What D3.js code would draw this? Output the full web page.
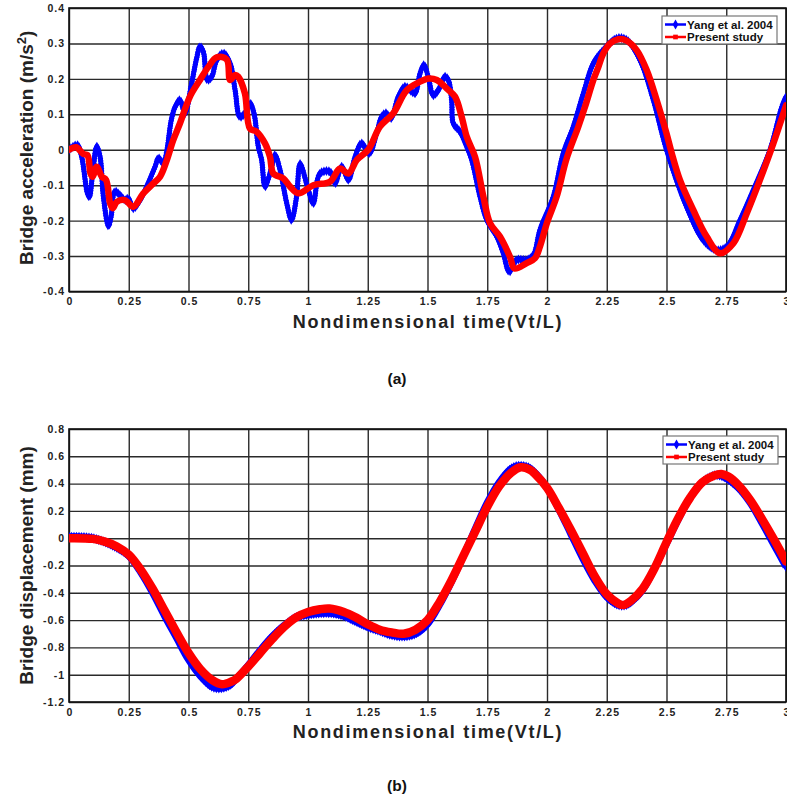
<!DOCTYPE html>
<html><head><meta charset="utf-8">
<script src="https://cdn.jsdelivr.net/npm/d3@7"></script>
<style>body{margin:0;background:#fff}svg{display:block}text{font-family:Arial,"Liberation Sans",sans-serif}</style>
</head><body><svg id="c" width="787" height="799"></svg>
<script>
// ---------- data ----------
const xTicks = [0,0.25,0.5,0.75,1,1.25,1.5,1.75,2,2.25,2.5,2.75,3];
const xTickLabels = ["0","0.25","0.5","0.75","1","1.25","1.5","1.75","2","2.25","2.5","2.75","3"];
const accTicks = [-0.4,-0.3,-0.2,-0.1,0,0.1,0.2,0.3,0.4];
const accTickLabels = ["-0.4","-0.3","-0.2","-0.1","0","0.1","0.2","0.3","0.4"];
const dispTicks = [-1.2,-1,-0.8,-0.6,-0.4,-0.2,0,0.2,0.4,0.6,0.8];
const dispTickLabels = ["-1.2","-1","-0.8","-0.6","-0.4","-0.2","0","0.2","0.4","0.6","0.8"];
const seriesNames = ["Yang et al. 2004","Present study"];

const accYangT = [0,0.035,0.053,0.077,0.085,0.099,0.116,0.13,0.144,0.165,0.176,0.192,0.213,0.234,0.248,0.269,0.297,0.325,0.36,0.374,0.395,0.41,0.428,0.444,0.464,0.485,0.513,0.534,0.548,0.562,0.579,0.597,0.618,0.646,0.674,0.695,0.715,0.736,0.757,0.774,0.792,0.806,0.82,0.835,0.848,0.862,0.883,0.911,0.931,0.952,0.967,1.0,1.022,1.05,1.092,1.113,1.141,1.169,1.197,1.224,1.256,1.287,1.308,1.326,1.347,1.378,1.406,1.434,1.448,1.469,1.485,1.503,1.524,1.545,1.573,1.587,1.601,1.608,1.636,1.664,1.685,1.72,1.748,1.79,1.817,1.842,1.873,1.915,1.943,1.971,2.026,2.068,2.11,2.152,2.194,2.236,2.292,2.333,2.389,2.445,2.5,2.584,2.654,2.71,2.752,2.808,2.863,2.933,2.982,3.0];
const accYang = [0,0.013,-0.02,-0.123,-0.133,-0.067,0.009,-0.02,-0.133,-0.215,-0.189,-0.118,-0.128,-0.142,-0.137,-0.165,-0.142,-0.104,-0.048,-0.024,-0.038,0.0,0.084,0.121,0.14,0.103,0.187,0.258,0.291,0.277,0.197,0.206,0.253,0.272,0.244,0.168,0.093,0.103,0.131,0.103,0.009,-0.029,-0.104,-0.08,-0.048,-0.015,-0.057,-0.151,-0.198,-0.133,-0.04,-0.11,-0.151,-0.067,-0.062,-0.095,-0.048,-0.085,-0.02,0.018,-0.01,0.046,0.093,0.103,0.089,0.15,0.178,0.164,0.159,0.216,0.239,0.206,0.154,0.168,0.206,0.197,0.14,0.074,0.051,0.009,-0.029,-0.133,-0.198,-0.245,-0.292,-0.344,-0.311,-0.311,-0.297,-0.225,-0.133,-0.01,0.065,0.159,0.244,0.281,0.314,0.31,0.253,0.14,0.0,-0.161,-0.255,-0.283,-0.274,-0.198,-0.114,0.0,0.12,0.15];

const accPresT = [0,0.03,0.06,0.077,0.09,0.099,0.116,0.137,0.155,0.172,0.183,0.2,0.234,0.269,0.311,0.353,0.381,0.409,0.436,0.464,0.506,0.548,0.583,0.618,0.66,0.674,0.695,0.708,0.736,0.757,0.785,0.82,0.841,0.855,0.897,0.925,0.96,1.022,1.092,1.134,1.169,1.204,1.252,1.301,1.357,1.413,1.469,1.503,1.539,1.58,1.615,1.643,1.664,1.699,1.734,1.762,1.803,1.845,1.864,1.915,1.95,1.97,1.999,2.04,2.082,2.131,2.159,2.194,2.215,2.236,2.264,2.298,2.333,2.375,2.417,2.459,2.5,2.522,2.556,2.612,2.668,2.724,2.78,2.836,2.891,2.947,3.0];
const accPres = [0,0.007,-0.012,-0.015,-0.067,-0.076,-0.048,-0.076,-0.085,-0.151,-0.165,-0.147,-0.142,-0.161,-0.123,-0.095,-0.076,-0.03,0.027,0.074,0.15,0.197,0.234,0.261,0.255,0.197,0.211,0.206,0.159,0.06,0.051,0.018,-0.02,-0.067,-0.081,-0.104,-0.123,-0.1,-0.09,-0.053,-0.067,-0.029,0,0.065,0.103,0.168,0.192,0.201,0.197,0.173,0.15,0.093,0.037,-0.02,-0.133,-0.208,-0.245,-0.302,-0.335,-0.32,-0.306,-0.274,-0.208,-0.133,-0.025,0.065,0.121,0.197,0.234,0.272,0.3,0.312,0.308,0.281,0.225,0.14,0.046,-0.01,-0.085,-0.17,-0.245,-0.292,-0.264,-0.179,-0.085,0.018,0.125];

const dispYangT = [0,0.1,0.2,0.25,0.3,0.35,0.4,0.45,0.5,0.55,0.6,0.63,0.67,0.7,0.75,0.8,0.85,0.9,0.95,1.0,1.05,1.1,1.15,1.2,1.25,1.3,1.35,1.4,1.45,1.5,1.55,1.6,1.65,1.7,1.75,1.8,1.85,1.88,1.92,1.95,2.0,2.05,2.1,2.15,2.2,2.25,2.3,2.33,2.35,2.4,2.45,2.5,2.55,2.6,2.65,2.7,2.72,2.75,2.8,2.85,2.9,2.95,3.0];
const dispYang = [0.01,0,-0.07,-0.13,-0.25,-0.4,-0.57,-0.73,-0.89,-1.01,-1.09,-1.1,-1.08,-1.03,-0.93,-0.82,-0.72,-0.64,-0.58,-0.56,-0.55,-0.55,-0.57,-0.61,-0.65,-0.68,-0.71,-0.72,-0.7,-0.63,-0.49,-0.32,-0.13,0.07,0.26,0.41,0.51,0.53,0.52,0.48,0.37,0.21,0.03,-0.15,-0.31,-0.43,-0.49,-0.49,-0.47,-0.38,-0.22,-0.04,0.14,0.3,0.41,0.46,0.46,0.44,0.37,0.26,0.11,-0.05,-0.21];

const dispPresT = [0,0.1,0.15,0.2,0.25,0.3,0.35,0.4,0.45,0.5,0.55,0.6,0.64,0.68,0.7,0.75,0.8,0.85,0.9,0.95,1.0,1.05,1.09,1.15,1.2,1.25,1.3,1.35,1.4,1.45,1.5,1.55,1.6,1.65,1.7,1.75,1.8,1.85,1.89,1.93,1.95,2.0,2.05,2.1,2.15,2.2,2.25,2.3,2.32,2.35,2.4,2.45,2.5,2.55,2.6,2.65,2.7,2.73,2.76,2.8,2.85,2.9,2.95,3.0];
const dispPres = [0,-0.005,-0.025,-0.06,-0.12,-0.23,-0.37,-0.53,-0.69,-0.84,-0.96,-1.04,-1.07,-1.05,-1.03,-0.94,-0.84,-0.74,-0.65,-0.58,-0.54,-0.52,-0.515,-0.54,-0.58,-0.63,-0.67,-0.69,-0.7,-0.67,-0.6,-0.47,-0.31,-0.13,0.05,0.23,0.38,0.48,0.52,0.5,0.47,0.37,0.22,0.06,-0.11,-0.28,-0.41,-0.48,-0.49,-0.46,-0.37,-0.22,-0.03,0.15,0.3,0.41,0.46,0.47,0.45,0.39,0.28,0.14,-0.01,-0.17];

// ---------- drawing ----------
const svg = d3.select("#c");
const blue = "#0000ff", red = "#ff0000";
const FONT = 'Arial,"Liberation Sans",sans-serif';

function panel(cfg){
  const x = d3.scaleLinear().domain([0,3]).range([69,786]);
  const y = d3.scaleLinear().domain(cfg.ydom).range([cfg.bottom, cfg.top]);
  const g = svg.append("g");
  // grid
  const gx = g.append("g").attr("transform",`translate(0,${cfg.bottom})`)
    .call(d3.axisBottom(x).tickValues(xTicks).tickSize(-(cfg.bottom-cfg.top)).tickFormat((d,i)=>xTickLabels[i]).tickPadding(6.5));
  const gy = g.append("g").attr("transform",`translate(69,0)`)
    .call(d3.axisLeft(y).tickValues(cfg.yticks).tickSize(-(786-69)).tickFormat((d,i)=>cfg.ylabels[i]).tickPadding(5));
  [gx,gy].forEach(a=>{
    a.select(".domain").remove();
    a.selectAll(".tick line").attr("stroke","#2a2a2a").attr("stroke-width",1.4);
    a.selectAll(".tick text").attr("font-family",FONT).attr("font-weight","bold").attr("font-size",10.5)
      .attr("letter-spacing","1px").attr("fill","#222");
  });
  gx.selectAll(".tick text").attr("dx","0.5px");
  gy.selectAll(".tick text").attr("dx","1px");
  // frame
  g.append("rect").attr("x",69).attr("y",cfg.top).attr("width",786-69).attr("height",cfg.bottom-cfg.top)
    .attr("fill","none").attr("stroke","#111").attr("stroke-width",1.6);
  const clip = "clip"+cfg.id;
  svg.append("clipPath").attr("id",clip).append("rect").attr("x",69).attr("y",cfg.top-6).attr("width",786-69).attr("height",cfg.bottom-cfg.top+12);
  const line = d3.line().x(d=>x(d[0])).y(d=>y(d[1])).curve(d3.curveCatmullRom.alpha(0.5));
  const plot = g.append("g").attr("clip-path",`url(#${clip})`);
  const bData = cfg.bt.map((t,i)=>[t,cfg.bv[i]]);
  const rData = cfg.rt.map((t,i)=>[t,cfg.rv[i]]);
  const bp = plot.append("path").datum(bData).attr("d",line).attr("fill","none").attr("stroke",blue).attr("stroke-width",cfg.bw).attr("stroke-linejoin","round");
  // diamond markers sampled along the blue curve
  const node = bp.node(), L = node.getTotalLength();
  const pts = d3.range(0, L, 2.5).map(l=>node.getPointAtLength(l));
  plot.append("g").selectAll("path").data(pts).join("path")
    .attr("d",d3.symbol(d3.symbolDiamond, cfg.ms)).attr("transform",p=>`translate(${p.x},${p.y})`).attr("fill",blue);
  plot.append("path").datum(rData).attr("d",line).attr("fill","none").attr("stroke",red).attr("stroke-width",cfg.rw).attr("stroke-linejoin","round").attr("stroke-linecap","round");
  // axis titles
  g.append("text").attr("x",428).attr("y",cfg.bottom+36).attr("text-anchor","middle")
    .attr("font-family",FONT).attr("font-weight","bold").attr("font-size",18).attr("letter-spacing","1.7px").attr("fill","#222").text("Nondimensional time(Vt/L)");
  const yt = g.append("text").attr("transform",`translate(33,${(cfg.top+cfg.bottom)/2+cfg.yoff}) rotate(-90)`).attr("text-anchor","middle")
    .attr("font-family",FONT).attr("font-weight","bold").attr("font-size",19).attr("fill","#222");
  cfg.ytitle(yt);
  g.append("text").attr("x",397).attr("y",cfg.cap).attr("text-anchor","middle").attr("font-family",FONT)
    .attr("font-weight","bold").attr("font-size",15.5).attr("fill","#111").text(cfg.caption);
  // legend
  const lg = g.append("g").attr("transform",`translate(${cfg.lx},${cfg.ly})`);
  lg.append("rect").attr("width",115).attr("height",28).attr("fill","#fff").attr("stroke","#777").attr("stroke-width",1.2);
  seriesNames.forEach((n,i)=>{
    const yy = 8.5 + i*12.5, c = i===0?blue:red;
    lg.append("line").attr("x1",3).attr("x2",24).attr("y1",yy).attr("y2",yy).attr("stroke",c).attr("stroke-width",2.5);
    lg.append("path").attr("d",d3.symbol(i===0?d3.symbolDiamond:d3.symbolSquare, i===0?28:22)).attr("transform",`translate(13.5,${yy})`).attr("fill",c);
    lg.append("text").attr("x",25).attr("y",yy+4).attr("font-family",FONT).attr("font-weight","bold").attr("font-size",11.5).attr("fill","#111").text(n);
  });
}

panel({id:"a", top:8, bottom:291.5, ydom:[-0.4,0.4], yticks:accTicks, ylabels:accTickLabels,
  bt:accYangT, bv:accYang, rt:accPresT, rv:accPres, bw:4.5, rw:6.5, ms:28, yoff:-2,
  ytitle:t=>{t.append("tspan").text("Bridge acceleration (m/s");t.append("tspan").attr("baseline-shift","super").attr("font-size",13).text("2");t.append("tspan").text(")");},
  caption:"(a)", cap:384, lx:662, ly:16});
panel({id:"b", top:429, bottom:702, ydom:[-1.2,0.8], yticks:dispTicks, ylabels:dispTickLabels,
  bt:dispYangT, bv:dispYang, rt:dispPresT, rv:dispPres, bw:7, rw:8.5, ms:30, yoff:0,
  ytitle:t=>t.text("Bridge displacement (mm)"),
  caption:"(b)", cap:791, lx:663, ly:436});
</script></body></html>
